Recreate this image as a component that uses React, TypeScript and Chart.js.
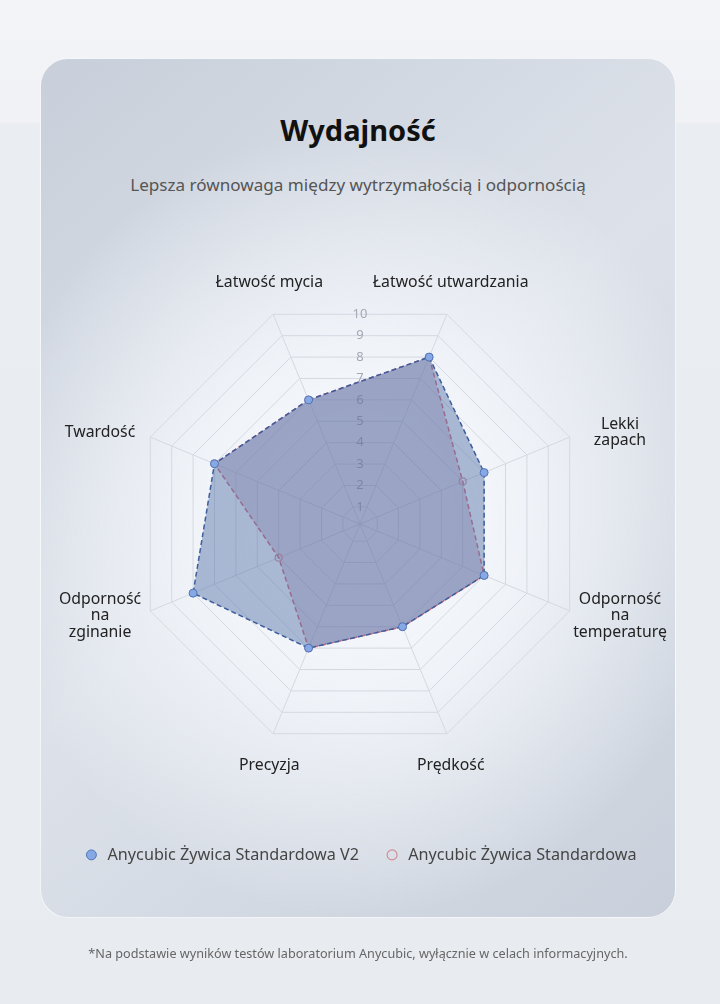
import React, { useEffect, useRef } from 'react';
import { Chart, registerables } from 'chart.js';

Chart.register(...registerables);

const AXIS_LABELS: string[][] = [
  ['Łatwość mycia'],
  ['Łatwość utwardzania'],
  ['Lekki', 'zapach'],
  ['Odporność', 'na', 'temperaturę'],
  ['Prędkość'],
  ['Precyzja'],
  ['Odporność', 'na', 'zginanie'],
  ['Twardość'],
];
const V2_VALUES = [6, 8, 6, 6, 5, 6, 8, 7];
const STANDARD_VALUES = [6, 8, 5, 6, 5, 6, 4, 7];
const TICK_VALUES = [1, 2, 3, 4, 5, 6, 7, 8, 9, 10];
const SERIES_NAMES = ['Anycubic Żywica Standardowa V2', 'Anycubic Żywica Standardowa'];
const TITLE = 'Wydajność';
const SUBTITLE = 'Lepsza równowaga między wytrzymałością i odpornością';
const FOOTNOTE = '*Na podstawie wyników testów laboratorium Anycubic, wyłącznie w celach informacyjnych.';

const FONT = '"Noto Sans", "Open Sans", sans-serif';
const CHART_RADIUS = 227;

export default function App() {
  const ref = useRef<HTMLCanvasElement | null>(null);

  useEffect(() => {
    const canvas = ref.current;
    if (!canvas) return;

    const tickTextPlugin = {
      id: 'tickText',
      beforeDatasetsDraw(chart: any) {
        const s = chart.scales.r;
        const ctx = chart.ctx;
        ctx.save();
        ctx.font = `13px ${FONT}`;
        ctx.fillStyle = '#a3a8b4';
        ctx.textAlign = 'center';
        ctx.textBaseline = 'middle';
        const c = Math.cos(Math.PI / 8);
        TICK_VALUES.forEach((v) => {
          const d = s.getDistanceFromCenterForValue(v) * c;
          ctx.fillText(String(v), s.xCenter, s.yCenter - d);
        });
        ctx.restore();
      },
    };

    const axisTextPlugin = {
      id: 'axisText',
      afterDraw(chart: any) {
        const s = chart.scales.r;
        const ctx = chart.ctx;
        ctx.save();
        ctx.font = `15.8px ${FONT}`;
        ctx.fillStyle = '#222222';
        ctx.textAlign = 'center';
        ctx.textBaseline = 'middle';
        const labels = chart.data.labels as string[][];
        labels.forEach((lab, i) => {
          const lines = Array.isArray(lab) ? lab : [lab];
          const p = s.getPointPosition(i, s.drawingArea + 10);
          const dx = Math.cos(p.angle);
          const dy = Math.sin(p.angle);
          let cx = p.x;
          let cy = p.y;
          if (Math.abs(dx) > Math.abs(dy)) {
            cx += Math.sign(dx) * 41;
            cy += Math.sign(dy) * 1;
          } else {
            cy += Math.sign(dy) * 22.5;
          }
          const lh = 16.5;
          lines.forEach((ln, k) => {
            ctx.fillText(ln, cx, cy + (k - (lines.length - 1) / 2) * lh);
          });
        });
        ctx.restore();
      },
    };

    const chart = new Chart(canvas, {
      type: 'radar',
      data: {
        labels: AXIS_LABELS,
        datasets: [
          {
            label: SERIES_NAMES[0],
            data: V2_VALUES,
            fill: true,
            backgroundColor: 'rgba(85,115,168,0.47)',
            borderColor: '#3d5d9c',
            borderWidth: 1.5,
            borderDash: [5, 3],
            pointRadius: 4,
            pointBackgroundColor: '#86a9e6',
            pointBorderColor: '#4f73b5',
            pointBorderWidth: 1,
          },
          {
            label: SERIES_NAMES[1],
            data: STANDARD_VALUES,
            fill: true,
            backgroundColor: 'rgba(140,95,140,0.25)',
            borderColor: '#cf6679',
            borderWidth: 1.5,
            borderDash: [5, 3],
            pointRadius: 3.5,
            pointBackgroundColor: 'rgba(0,0,0,0)',
            pointBorderColor: '#d28c98',
            pointBorderWidth: 1.2,
          },
        ],
      },
      options: {
        responsive: false,
        animation: false,
        layout: { padding: { top: 297, bottom: 131, left: 0, right: 0 } },
        scales: {
          r: {
            min: 0.2,
            max: 10,
            startAngle: -22.5,
            afterBuildTicks: (s: any) => {
              s.ticks = [0, ...TICK_VALUES].map((v) => ({ value: v }));
            },
            afterFit: (s: any) => {
              s.drawingArea = CHART_RADIUS;
              s.xCenter = s.left + s.width / 2;
              s.yCenter = s.top + CHART_RADIUS;
            },
            ticks: { display: false },
            pointLabels: { display: false },
            grid: { color: '#d4d9e1', lineWidth: 1 },
            angleLines: { color: '#d4d9e1', lineWidth: 1 },
          },
        },
        plugins: {
          legend: {
            position: 'bottom',
            labels: {
              usePointStyle: true,
              boxWidth: 16,
              boxHeight: 7,
              padding: 25,
              color: '#454545',
              font: { family: FONT, size: 16.2 },
            },
          },
          tooltip: { enabled: false },
        },
      } as any,
      plugins: [tickTextPlugin, axisTextPlugin],
    });

    return () => chart.destroy();
  }, []);

  return (
    <div
      style={{
        position: 'absolute',
        left: 0,
        top: 0,
        width: 720,
        height: 1004,
        overflow: 'hidden',
        background: 'linear-gradient(180deg, #f2f4f7 0px, #f0f2f6 122px, #eaedf1 124px, #e8ebef 1004px)',
        fontFamily: FONT,
      }}
    >
      <div
        style={{
          position: 'absolute',
          left: 40,
          top: 58,
          width: 636,
          height: 860,
          boxSizing: 'border-box',
          borderRadius: 28,
          border: '1px solid rgba(255,255,255,0.75)',
          background:
            'radial-gradient(ellipse 58% 46% at 50% 54%, rgba(248,250,253,1) 0%, rgba(242,245,250,0.92) 45%, rgba(230,234,241,0) 100%), linear-gradient(140deg, #c8cfda 0%, #dde2ea 48%, #c9d0db 100%)',
        }}
      />
      <div
        style={{
          position: 'absolute',
          left: 40,
          width: 636,
          top: 114,
          lineHeight: '32px',
          fontSize: 29,
          fontWeight: 700,
          textAlign: 'center',
          color: '#111',
        }}
      >
        {TITLE}
      </div>
      <div
        style={{
          position: 'absolute',
          left: 40,
          width: 636,
          top: 175,
          lineHeight: '20px',
          fontSize: 17.1,
          textAlign: 'center',
          color: '#555',
        }}
      >
        {SUBTITLE}
      </div>
      <canvas
        ref={ref}
        width={720}
        height={1004}
        style={{ position: 'absolute', left: 0, top: 0, width: 720, height: 1004 }}
      />
      <div
        style={{
          position: 'absolute',
          left: 0,
          width: 716,
          top: 943,
          lineHeight: '20px',
          fontSize: 12.65,
          textAlign: 'center',
          color: '#666',
        }}
      >
        {FOOTNOTE}
      </div>
    </div>
  );
}
